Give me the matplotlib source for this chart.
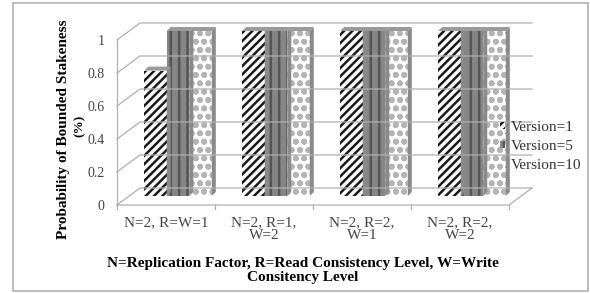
import numpy as np
import matplotlib
matplotlib.use("Agg")
import matplotlib.pyplot as plt
from matplotlib.transforms import ScaledTranslation
from matplotlib.lines import Line2D
from matplotlib.patches import Rectangle, Polygon

categories = ["N=2, R=W=1", "N=2, R=1,\nW=2", "N=2, R=2,\nW=1", "N=2, R=2,\nW=2"]
series = ["Version=1", "Version=5", "Version=10"]
v1 = [0.76, 1.0, 1.0, 1.0]
v5 = [1.0, 1.0, 1.0, 1.0]
v10 = [1.0, 1.0, 1.0, 1.0]
yticks = [0, 0.2, 0.4, 0.6, 0.8, 1]

plt.rcParams['font.family'] = ['Liberation Serif', 'DejaVu Serif']
plt.rcParams['hatch.linewidth'] = 1.8

DPI = 100
fig = plt.figure(figsize=(5.9, 2.93), dpi=DPI)
ax = fig.add_axes([117/590, 1-205/293, 392/590, 165/293])
ax.set_xlim(-0.5, 3.5)
ax.set_ylim(0, 1)
for s in ax.spines.values():
    s.set_visible(False)
ax.patch.set_visible(False)

# 3d-ish offsets in pixels
wall_dx, wall_dy = 23, 17
bar_dx, bar_dy = 12, 9
bar_off = ax.transData + ScaledTranslation(bar_dx/DPI, bar_dy/DPI, fig.dpi_scale_trans)

x = np.arange(len(categories))
w = 0.23
styles = [
    dict(facecolor='white', edgecolor='#1a1a1a', hatch='////'),
    dict(facecolor='#868686', edgecolor='#555555', hatch='||'),
    dict(facecolor='white', edgecolor='#b4b4b4', hatch='oo'),
]

def px(xd, yd):
    return ax.transData.transform((xd, yd))

# back wall grid + diagonals
grid_c = '#b0b0b0'
for v in yticks:
    x0, y0 = px(-0.5, v)
    x1, y1 = px(3.5, v)
    fig.add_artist(Line2D([x0, x0 + wall_dx, x1 + wall_dx], [y0, y0 + wall_dy, y1 + wall_dy],
                          transform=None, color=grid_c, lw=0.9))
# floor
x0, y0 = px(-0.5, 0)
x1, y1 = px(3.5, 0)
fig.add_artist(Line2D([x0, x1, x1 + wall_dx], [y0, y1, y1 + wall_dy], transform=None, color=grid_c, lw=0.9))
# y axis line
xa, ya0 = px(-0.5, 0)
_, ya1 = px(-0.5, 1)
fig.add_artist(Line2D([xa, xa], [ya0, ya1], transform=None, color=grid_c, lw=0.9))
for i in range(len(categories) + 1):
    xt, yt = px(-0.5 + i, 0)
    fig.add_artist(Line2D([xt, xt], [yt, yt - 4], transform=None, color=grid_c, lw=0.9))

vals = [v1, v5, v10]
handles = []
for j, (vals_j, st) in enumerate(zip(vals, styles)):
    pos = x + (j - 1) * w
    bars = ax.bar(pos, vals_j, w, transform=bar_off, clip_on=False, linewidth=0, **st)
    handles.append(bars)
    for b in bars:
        bx0, by0 = b.get_x(), b.get_y()
        bx1, by1 = bx0 + b.get_width(), by0 + b.get_height()
        p00 = bar_off.transform((bx0, by1))
        p10 = bar_off.transform((bx1, by1))
        p11 = bar_off.transform((bx1, by0))
        d = 4
        top = Polygon([p00, p10, p10 + [d, d], p00 + [d, d]], closed=True, transform=None,
                      facecolor='#9a9a9a', edgecolor='none')
        side = Polygon([p10, p11, p11 + [d, d], p10 + [d, d]], closed=True, transform=None,
                       facecolor='#8a8a8a', edgecolor='none')
        fig.add_artist(top)
        fig.add_artist(side)

ax.set_yticks(yticks)
ax.set_yticklabels(['0', '0.2', '0.4', '0.6', '0.8', '1'], fontsize=10, color='#444444')
ax.tick_params(axis='y', length=0, pad=9)
ax.set_xticks(x)
ax.set_xticklabels(categories, fontsize=11, color='#444444', linespacing=1.0)
ax.tick_params(axis='x', length=0, pad=8)

fig.text(63/590, 1-129/293, "Probability of Bounded Stakeness", rotation=90,
         ha='center', va='center', fontsize=11, fontweight='bold')
fig.text(80/590, 1-126/293, "(%)", rotation=90, ha='center', va='center',
         fontsize=9.5, fontweight='bold')
fig.text(303/590, 1-270/293, "N=Replication Factor, R=Read Consistency Level, W=Write\nConsitency Level",
         ha='center', va='center', fontsize=11, fontweight='bold', linespacing=1.1)

leg = fig.legend(handles, series, loc='upper left', bbox_to_anchor=(494/590, 1-115/293),
                 frameon=False, fontsize=11, handlelength=0.35, handleheight=0.35,
                 handletextpad=0.35, labelspacing=0.4, borderaxespad=0)
for t in leg.get_texts():
    t.set_color('#333333')

fig.add_artist(Rectangle((13/590, 2/293), 575/590, 288/293, transform=fig.transFigure,
                         facecolor='none', edgecolor='#b0b0b0', lw=1.2))

fig.savefig("out.png", dpi=DPI)
